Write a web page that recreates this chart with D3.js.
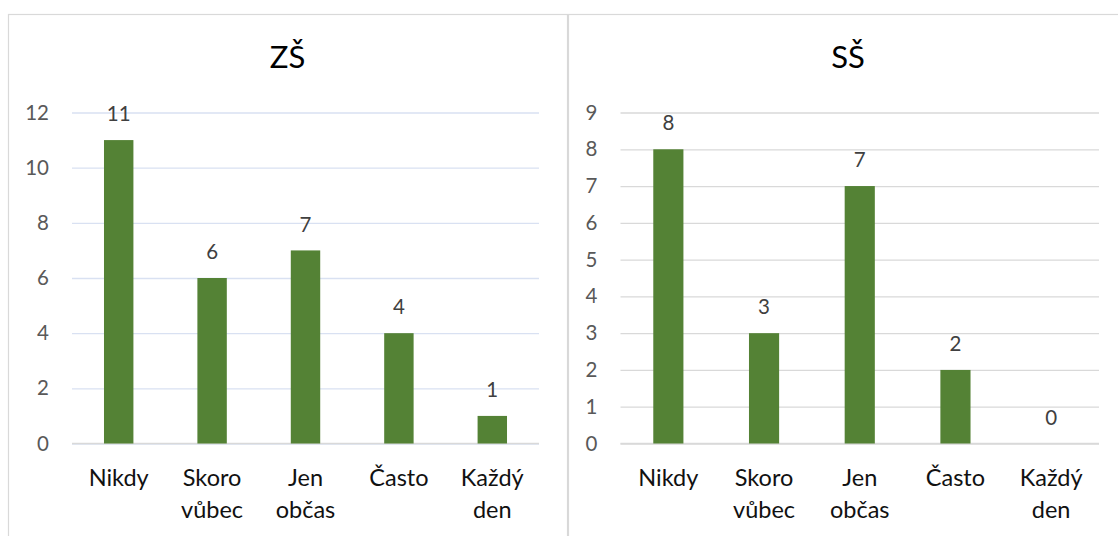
<!DOCTYPE html>
<html>
<head>
<meta charset="utf-8">
<script src="https://cdn.jsdelivr.net/npm/d3@7"></script>
<style>
  html, body { margin: 0; padding: 0; background: #fff; }
  svg { display: block; font-family: Lato, "Open Sans", sans-serif; }
</style>
</head>
<body>
<svg id="chart" width="1118" height="536"></svg>
<script>
const categories = ["Nikdy", "Skoro vůbec", "Jen občas", "Často", "Každý den"];
const zsValues = [11, 6, 7, 4, 1];
const ssValues = [8, 3, 7, 2, 0];
const zsTicks = [0, 2, 4, 6, 8, 10, 12];
const ssTicks = [0, 1, 2, 3, 4, 5, 6, 7, 8, 9];
const titles = ["ZŠ", "SŠ"];

const svg = d3.select("#chart");

const panels = [
  { title: titles[0], values: zsValues, ticks: zsTicks, max: 12,
    box: [8, 14, 559, 600], plot: { x0: 72, x1: 539, y0: 443.5, y1: 112.5 },
    titleX: 287.5, grid: "#d9e1f2" },
  { title: titles[1], values: ssValues, ticks: ssTicks, max: 9,
    box: [568, 14, 559, 600], plot: { x0: 620.5, x1: 1099, y0: 443.5, y1: 112.5 },
    titleX: 848, grid: "#d9d9d9" }
];

panels.forEach(p => {
  const g = svg.append("g");
  g.append("rect")
    .attr("x", p.box[0] + 0.5).attr("y", p.box[1] + 0.5)
    .attr("width", p.box[2]).attr("height", p.box[3])
    .attr("fill", "#fff").attr("stroke", "#d9d9d9").attr("stroke-width", 1.2);

  g.append("text")
    .attr("x", p.titleX).attr("y", 68)
    .attr("text-anchor", "middle")
    .attr("font-size", 31)
    .attr("fill", "#000")
    .text(p.title);

  const x = d3.scaleBand().domain(categories).range([p.plot.x0, p.plot.x1]).paddingInner(0.685).paddingOuter(0.3425);
  const y = d3.scaleLinear().domain([0, p.max]).range([p.plot.y0, p.plot.y1]);

  // gridlines
  const yAxis = d3.axisLeft(y).tickValues(p.ticks).tickSize(-(p.plot.x1 - p.plot.x0)).tickPadding(23).tickFormat(d3.format("d"));
  const ya = g.append("g").attr("transform", `translate(${p.plot.x0},0)`).call(yAxis);
  ya.select(".domain").remove();
  ya.selectAll(".tick line").attr("stroke", p.grid).attr("stroke-width", 1.3);
  ya.selectAll(".tick text").attr("font-size", 20.5).attr("fill", "#595959").attr("font-family", "Lato, sans-serif");

  // baseline axis
  g.append("line")
    .attr("x1", p.plot.x0).attr("x2", p.plot.x1)
    .attr("y1", y(0)).attr("y2", y(0))
    .attr("stroke", "#d9d9d9").attr("stroke-width", 1.3);

  // bars
  g.selectAll("rect.bar").data(p.values).join("rect")
    .attr("class", "bar")
    .attr("x", (d, i) => x(categories[i]))
    .attr("width", x.bandwidth())
    .attr("y", d => y(d))
    .attr("height", d => y(0) - y(d))
    .attr("fill", "#548235");

  // data labels
  g.selectAll("text.val").data(p.values).join("text")
    .attr("class", "val")
    .attr("x", (d, i) => x(categories[i]) + x.bandwidth() / 2)
    .attr("y", d => y(d) - 26)
    .attr("dy", "0.35em")
    .attr("text-anchor", "middle")
    .attr("font-size", 20.5)
    .attr("fill", "#404040")
    .text(d => d);

  // category labels
  categories.forEach(c => {
    const words = c.split(" ");
    const t = g.append("text")
      .attr("text-anchor", "middle")
      .attr("font-size", 23.5)
      .attr("fill", "#111");
    words.forEach((w, j) => {
      t.append("tspan")
        .attr("x", x(c) + x.bandwidth() / 2)
        .attr("y", 478 + j * 32)
        .attr("dy", "0.35em")
        .text(w);
    });
  });
});
</script>
</body>
</html>
